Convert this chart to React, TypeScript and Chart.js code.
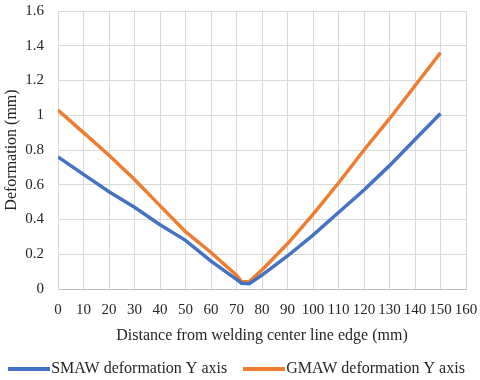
import React, { useEffect, useRef } from 'react';
import { Chart, registerables } from 'chart.js';

Chart.register(...registerables);

// Distance from welding center line edge (mm)
const smawX = [0, 10, 20, 30, 40, 50, 60, 70, 72, 75, 80, 90, 100, 110, 120, 130, 140, 150];
const smawY = [0.76, 0.66, 0.56, 0.47, 0.37, 0.28, 0.16, 0.055, 0.033, 0.03, 0.08, 0.19, 0.31, 0.44, 0.57, 0.71, 0.86, 1.01];

const gmawX = [0, 10, 20, 30, 40, 50, 60, 70, 72, 75, 80, 90, 100, 110, 120, 130, 140, 150];
const gmawY = [1.03, 0.9, 0.77, 0.63, 0.48, 0.33, 0.21, 0.08, 0.042, 0.042, 0.11, 0.26, 0.43, 0.61, 0.8, 0.98, 1.17, 1.36];

const seriesNames = ['SMAW deformation Y axis', 'GMAW deformation Y axis'];
const seriesColors = ['#4472C4', '#ED7D31'];

const xMin = 0;
const xMax = 160;
const xStep = 10;
const yMin = 0;
const yMax = 1.6;
const yStep = 0.2;

const xTitle = 'Distance from welding center line edge (mm)';
const yTitle = 'Deformation (mm)';

const FONT = "'Liberation Serif', 'Times New Roman', serif";
const TEXT = '#262626';
const GRID = '#d9d9d9';

function toPoints(xs: number[], ys: number[]) {
  return xs.map((x, i) => ({ x, y: ys[i] }));
}

function legendSwatch(color: string) {
  const c = document.createElement('canvas');
  c.width = 42;
  c.height = 4;
  const ctx = c.getContext('2d')!;
  ctx.fillStyle = color;
  ctx.fillRect(0, 0, 42, 4);
  return c;
}

export default function App() {
  const ref = useRef<HTMLCanvasElement | null>(null);

  useEffect(() => {
    document.body.style.margin = '0';
    if (!ref.current) return;
    const swatches = seriesColors.map(legendSwatch);
    const chart = new Chart(ref.current, {
      type: 'line',
      data: {
        datasets: [
          {
            label: seriesNames[0],
            data: toPoints(smawX, smawY),
            borderColor: seriesColors[0],
            backgroundColor: seriesColors[0],
            borderWidth: 3.5,
            pointRadius: 0,
            tension: 0,
          },
          {
            label: seriesNames[1],
            data: toPoints(gmawX, gmawY),
            borderColor: seriesColors[1],
            backgroundColor: seriesColors[1],
            borderWidth: 3.5,
            pointRadius: 0,
            tension: 0,
          },
        ],
      },
      options: {
        animation: false,
        responsive: false,
        devicePixelRatio: 1,
        layout: { padding: { left: -15, right: -15, top: 0, bottom: -7 } },
        scales: {
          x: {
            type: 'linear',
            min: xMin,
            max: xMax,
            ticks: {
              stepSize: xStep,
              padding: 12,
              color: TEXT,
              font: { family: FONT, size: 15 },
              maxRotation: 0,
              autoSkip: false,
            },
            grid: { color: GRID, lineWidth: 1, drawTicks: false },
            border: { color: '#bfbfbf', width: 1 },
            title: {
              display: true,
              text: xTitle,
              color: TEXT,
              font: { family: FONT, size: 16 },
              padding: { top: 0, bottom: -7.6 },
            },
            afterFit: (s: any) => {
              s.height = 49;
              s.paddingRight = 14;
              s.paddingLeft = 0;
            },
          },
          y: {
            type: 'linear',
            min: yMin,
            max: yMax,
            ticks: {
              stepSize: yStep,
              padding: 14,
              color: TEXT,
              font: { family: FONT, size: 15 },
              callback: (v: any) => String(Number(Number(v).toFixed(2))),
            },
            grid: { color: GRID, lineWidth: 1, drawTicks: false },
            border: { color: GRID, width: 1 },
            title: {
              display: true,
              text: yTitle,
              color: TEXT,
              font: { family: FONT, size: 16 },
              padding: { top: 17.4, bottom: 0 },
            },
            afterFit: (s: any) => {
              s.width = 73;
              s.paddingTop = 11;
              s.paddingBottom = 0;
            },
          },
        },
        plugins: {
          tooltip: { enabled: false },
          legend: {
            display: true,
            position: 'bottom',
            labels: {
              usePointStyle: true,
              pointStyleWidth: 28,
              padding: 23,
              color: TEXT,
              font: { family: FONT, size: 16 },
              generateLabels: (ch: any) => {
                const items = Chart.defaults.plugins.legend.labels.generateLabels(ch);
                return items.map((it: any, i: number) => ({ ...it, pointStyle: swatches[i % swatches.length] }));
              },
            },
          },
        },
      } as any,
    });
    return () => chart.destroy();
  }, []);

  return <canvas ref={ref} width={480} height={380} style={{ display: 'block' }} />;
}
